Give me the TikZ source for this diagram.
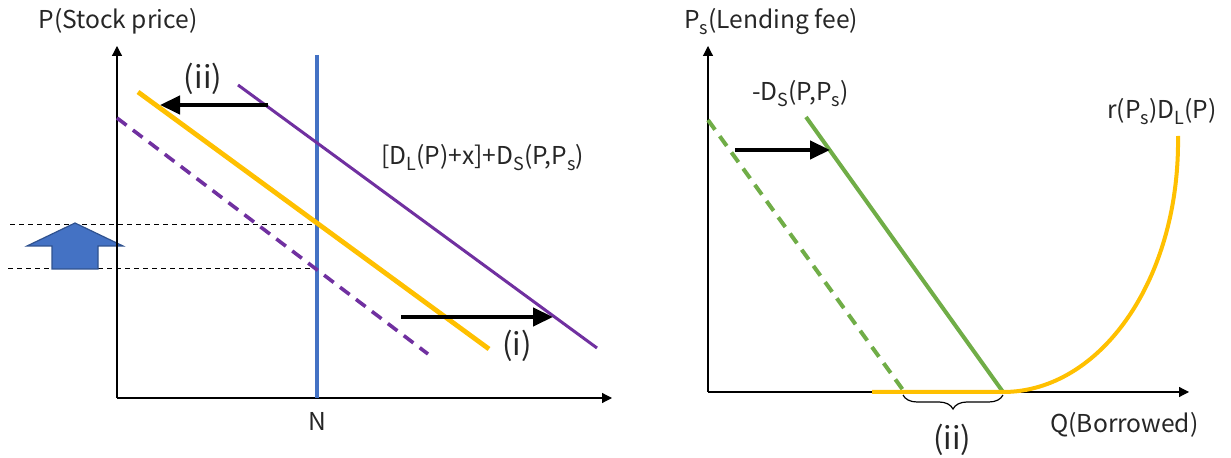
\documentclass[tikz,border=0pt]{standalone}
\usepackage{fontspec}
\setmainfont{Noto Sans CJK JP}
\usetikzlibrary{arrows.meta,decorations.pathreplacing}
\newcommand\lowsub[1]{\raisebox{-0.45ex}{\fontsize{9}{10}\selectfont #1}}
\definecolor{pblue}{HTML}{4472C4}
\definecolor{pblueedge}{HTML}{2F528F}
\definecolor{ppurple}{HTML}{7030A0}
\definecolor{pyellow}{HTML}{FFC000}
\definecolor{pgreen}{HTML}{70AD47}
\begin{document}
\begin{tikzpicture}[x={(0.5pt,0)},y={(0,-0.5pt)},
  axis/.style={line width=0.6pt,-{Triangle[length=5pt,width=5pt]}},
  lbl/.style={font=\fontsize{12.3}{14}\selectfont,text=black!85,inner sep=0pt},
  biglbl/.style={font=\fontsize{15.5}{17}\selectfont,text=black!85,inner sep=0pt},
  bigarrow/.style={line width=2.2pt,-{Triangle[length=10pt,width=9pt]}},
  guide/.style={line width=0.5pt,dash pattern=on 2.5pt off 2pt},
  purpleline/.style={ppurple,line width=1.5pt},
  purpledash/.style={ppurple,line width=1.8pt,dash pattern=on 6pt off 4pt},
  yellowline/.style={pyellow,line width=2.4pt},
  greenline/.style={pgreen,line width=2pt},
  greendash/.style={pgreen,line width=2pt,dash pattern=on 6pt off 4pt},
  bluevert/.style={pblue,line width=1.6pt}]
\useasboundingbox (0,0) rectangle (1231,458);

% ---------- left panel ----------
\coordinate (Lo) at (117,398);
\coordinate (Ly) at (117,46);
\coordinate (Lx) at (612,398);
\coordinate (g1a) at (10,225);
\coordinate (g1b) at (317,225);
\coordinate (g2a) at (8,269);
\coordinate (g2b) at (317,269);
\draw[guide] (g1a) -- (g1b);
\draw[guide] (g2a) -- (g2b);

\draw[fill=pblue,draw=pblueedge,line width=0.6pt]
  (75,223) -- (123,246) -- (98,246) -- (98,269) -- (52,269) -- (52,246) -- (27,246) -- cycle;

\draw[axis] (Lo) -- (Ly);
\draw[axis] (Lo) -- (Lx);

\coordinate (NT) at (317,55);
\coordinate (NB) at (317,398);
\draw[bluevert] (NT) -- (NB);

\coordinate (pd1) at (117,118);
\coordinate (pd2) at (428,354);
\draw[purpledash] (pd1) -- (pd2);
\coordinate (y1) at (138,92);
\coordinate (y2) at (489,349);
\draw[yellowline] (y1) -- (y2);
\coordinate (p1) at (238,85);
\coordinate (p2) at (597,348);
\draw[purpleline] (p1) -- (p2);

\coordinate (a2s) at (268,105);
\coordinate (a2e) at (160,105);
\draw[bigarrow] (a2s) -- (a2e);
\coordinate (a1s) at (401,317);
\coordinate (a1e) at (553,317);
\draw[bigarrow] (a1s) -- (a1e);

\node[lbl] (tP) at (118,21) {P(Stock price)};
\node[lbl] (tN) at (317,421) {N};
\node[biglbl] (tii) at (203,79) {(ii)};
\node[biglbl] (ti) at (517,346) {(i)};
\node[lbl,anchor=west] (tD) at (381,158) {[D\lowsub{L}(P)+x]+D\lowsub{S}(P,P\lowsub{s})};

% ---------- right panel ----------
\coordinate (Ro) at (708,392);
\coordinate (Ry) at (708,46);
\coordinate (Rx) at (1189,392);
\draw[axis] (Ro) -- (Ry);
\draw[axis] (Ro) -- (Rx);

\coordinate (gd1) at (708,120);
\coordinate (gd2) at (903,390);
\draw[greendash] (gd1) -- (gd2);
\coordinate (gs1) at (806,117);
\coordinate (gs2) at (1003,392);
\draw[greenline] (gs1) -- (gs2);

\coordinate (ys) at (872,392);
\coordinate (yk) at (1003,392);
\coordinate (yt) at (1178,136);
\draw[pyellow,line width=2pt] (ys) -- (yk) .. controls (1100,392) and (1180,280) .. (yt);

\coordinate (a3s) at (735,150);
\coordinate (a3e) at (830,150);
\draw[bigarrow] (a3s) -- (a3e);

\coordinate (b1) at (903,395);
\coordinate (b2) at (1003,395);
\draw[line width=0.6pt,decorate,decoration={brace,mirror,amplitude=7pt}] (b1) -- (b2);

\node[lbl,anchor=west] (tPs) at (684,22) {P\lowsub{s}(Lending fee)};
\node[lbl,anchor=west] (tDs) at (752,94) {-D\lowsub{S}(P,P\lowsub{s})};
\node[lbl,anchor=west] (tr) at (1107,112) {r(P\lowsub{s})D\lowsub{L}(P)};
\node[biglbl] (tii2) at (952,440) {(ii)};
\node[lbl,anchor=west] (tQ) at (1050,425) {Q(Borrowed)};
\end{tikzpicture}
\end{document}
